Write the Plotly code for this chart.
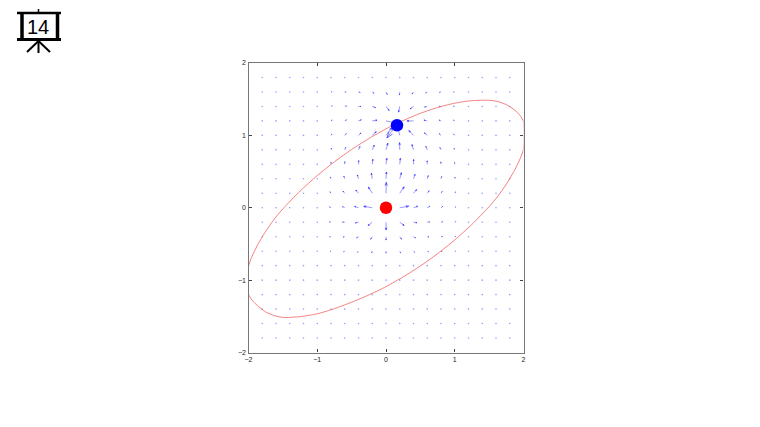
import plotly.graph_objects as go

W, H = 760, 427
PX0, PX1, PY0, PY1 = 248.5, 523.5, 63.0, 352.5

tick_vals = [-2, -1, 0, 1, 2]
slide_number = "14"

sun_xy = (0.0, 0.0)
planet_xy = (0.16, 1.14)

orbit_x = [-2.0, -1.95, -1.875, -1.75, -1.625, -1.5, -1.25, -1.0, -0.75, -0.5, -0.25, 0.0,
           0.25, 0.5, 0.75, 1.0, 1.25, 1.5, 1.625, 1.75, 1.875, 1.95, 2.0,
           2.0, 1.95, 1.875, 1.75, 1.625, 1.5, 1.25, 1.0, 0.75, 0.5, 0.25, 0.0,
           -0.25, -0.5, -0.75, -1.0, -1.25, -1.5, -1.625, -1.75, -1.875, -1.95, -2.0, -2.0]
orbit_y = [-0.81, -0.675, -0.5275, -0.325, -0.1575, -0.015, 0.23, 0.445, 0.635, 0.805, 0.955, 1.09,
           1.205, 1.305, 1.385, 1.445, 1.48, 1.485, 1.4675, 1.425, 1.3475, 1.275, 1.19,
           0.81, 0.675, 0.5275, 0.325, 0.1575, 0.015, -0.23, -0.445, -0.635, -0.805, -0.955, -1.09,
           -1.205, -1.305, -1.395, -1.465, -1.505, -1.515, -1.49, -1.44, -1.3475, -1.275, -1.19, -0.81]

grid_x = [-1.8, -1.6, -1.4, -1.2, -1.0, -0.8, -0.6, -0.4, -0.2, 0.0, 0.2, 0.4, 0.6, 0.8, 1.0, 1.2, 1.4, 1.6, 1.8]
grid_y = [-1.8, -1.6, -1.4, -1.2, -1.0, -0.8, -0.6, -0.4, -0.2, 0.0, 0.2, 0.4, 0.6, 0.8, 1.0, 1.2, 1.4, 1.6, 1.8]

field_x = [-0.8, -0.6, -0.4, -0.2, 0.0, 0.2, 0.4, 0.6, 0.8, 1.0]
field_y = [1.6, 1.4, 1.2, 1.0, 0.8, 0.6, 0.4, 0.2, 0.0, -0.2, -0.4, -0.6]
field_u = [
    [0.61, 0.78, 0.94, 1.00, 0.67, -0.17, -0.80, -0.91, -0.79, -0.64],
    [0.68, 0.94, 1.32, 1.79, 1.76, -0.67, -1.81, -1.44, -1.03, -0.75],
    [0.67, 0.99, 1.55, 2.66, 6.00, -7.20, -3.60, -1.86, -1.14, -0.76],
    [0.54, 0.84, 1.35, 2.22, 3.33, -1.81, -2.60, -1.56, -0.97, -0.64],
    [0.30, 0.50, 0.79, 1.13, 1.03, -0.11, -0.85, -0.78, -0.57, -0.40],
    [-0.01, 0.03, 0.14, 0.32, 0.46, 0.34, 0.08, -0.06, -0.10, -0.09],
    [-0.35, -0.49, -0.61, -0.49, 0.26, 0.91, 0.85, 0.57, 0.34, 0.20],
    [-0.65, -0.99, -1.54, -2.16, 0.16, 2.45, 1.74, 1.09, 0.69, 0.44],
    [-0.82, -1.27, -2.16, -4.76, 0.00, 4.96, 2.32, 1.37, 0.88, 0.58],
    [-0.83, -1.19, -1.74, -2.32, 0.08, 2.47, 1.87, 1.28, 0.89, 0.63],
    [-0.71, -0.90, -1.05, -0.86, 0.06, 0.98, 1.15, 0.98, 0.77, 0.59],
    [-0.56, -0.63, -0.61, -0.39, 0.05, 0.48, 0.69, 0.70, 0.61, 0.51],
]
field_v = [
    [0.09, -0.04, -0.30, -0.77, -1.38, -1.58, -1.11, -0.56, -0.22, -0.04],
    [0.28, 0.20, -0.03, -0.65, -2.23, -3.15, -1.34, -0.34, 0.02, 0.16],
    [0.52, 0.58, 0.59, 0.41, -1.17, -9.40, -0.02, 0.42, 0.46, 0.42],
    [0.77, 0.99, 1.32, 2.00, 4.33, 6.96, 2.63, 1.40, 0.95, 0.70],
    [0.97, 1.31, 1.82, 2.60, 3.66, 3.98, 2.89, 1.88, 1.27, 0.90],
    [1.06, 1.47, 2.06, 2.79, 3.36, 3.30, 2.66, 1.92, 1.36, 0.98],
    [1.01, 1.44, 2.12, 3.10, 3.78, 3.33, 2.45, 1.75, 1.26, 0.93],
    [0.82, 1.15, 1.79, 3.43, 6.03, 3.55, 1.98, 1.36, 1.01, 0.78],
    [0.52, 0.61, 0.71, 0.80, 0.00, 0.87, 0.83, 0.75, 0.66, 0.56],
    [0.20, 0.07, -0.37, -1.81, -4.27, -1.76, -0.28, 0.17, 0.31, 0.34],
    [-0.03, -0.25, -0.68, -1.39, -1.86, -1.36, -0.62, -0.17, 0.05, 0.15],
    [-0.16, -0.35, -0.63, -0.95, -1.10, -0.93, -0.59, -0.30, -0.10, 0.02],
]

SCALE_X, SCALE_Y = 0.026, 0.025
HEAD = 0.3
HEAD_WIDTH = 0.1


def px(x):
    return x / W


def py(y):
    return 1 - y / H


dot_x, dot_y = [], []
for gy in grid_y:
    for gx in grid_x:
        if not (gx in field_x and gy in field_y):
            dot_x.append(gx)
            dot_y.append(gy)

line_x, line_y = [], []
head_x, head_y = [], []
for j, fy in enumerate(field_y):
    for i, fx in enumerate(field_x):
        du = field_u[j][i] * SCALE_X
        dv = field_v[j][i] * SCALE_Y
        if du == 0 and dv == 0:
            continue
        ex, ey = fx + du, fy + dv
        line_x += [fx, ex, None]
        line_y += [fy, ey, None]
        bx, by = ex - du * HEAD, ey - dv * HEAD
        nx, ny = -dv * HEAD_WIDTH * SCALE_X / SCALE_Y, du * HEAD_WIDTH * SCALE_Y / SCALE_X
        head_x += [bx + nx, ex, bx - nx, None]
        head_y += [by + ny, ey, by - ny, None]

fig = go.Figure()
fig.add_trace(go.Scatter(x=dot_x, y=dot_y, mode="markers", hoverinfo="skip",
                         marker=dict(size=1.6, color="rgba(90,90,255,0.6)", line=dict(width=0))))
fig.add_trace(go.Scatter(x=line_x, y=line_y, mode="lines", hoverinfo="skip",
                         line=dict(color="rgba(70,70,255,0.55)", width=1)))
fig.add_trace(go.Scatter(x=head_x, y=head_y, mode="lines", hoverinfo="skip",
                         line=dict(color="rgba(40,40,255,0.7)", width=1)))
fig.add_trace(go.Scatter(x=orbit_x, y=orbit_y, mode="lines", hoverinfo="skip",
                         line=dict(color="rgba(240,90,90,0.85)", width=0.9, shape="spline", smoothing=0.6)))
fig.add_trace(go.Scatter(x=[sun_xy[0]], y=[sun_xy[1]], mode="markers", hoverinfo="skip",
                         marker=dict(size=12.5, color="#ff0000", line=dict(width=0))))
fig.add_trace(go.Scatter(x=[planet_xy[0]], y=[planet_xy[1]], mode="markers", hoverinfo="skip",
                         marker=dict(size=12.5, color="#0000ff", line=dict(width=0))))

axis_common = dict(range=[-2, 2], tickvals=tick_vals, ticks="inside", ticklen=3, tickwidth=1,
                   tickcolor="#444444", showgrid=False, zeroline=False, showline=True,
                   linecolor="#777777", linewidth=1.4, mirror="ticks", automargin=False,
                   tickfont=dict(family="Liberation Sans", size=7, color="#222222"))
fig.update_layout(
    width=W, height=H, showlegend=False, paper_bgcolor="white", plot_bgcolor="white",
    margin=dict(l=0, r=0, t=0, b=0, pad=0, autoexpand=False),
    xaxis=dict(domain=[px(PX0), px(PX1)], **axis_common),
    yaxis=dict(domain=[py(PY1), py(PY0)], **axis_common),
)

icon_lines = [
    (17, 13, 61, 13, 2.5), (17, 39.5, 61, 39.5, 3), (22, 13, 22, 39, 3.5), (57.5, 13, 57.5, 39, 3.5),
    (38.5, 9, 38.5, 13, 1.5), (38.5, 40, 38.5, 53, 2), (38.5, 41, 27, 52, 2), (38.5, 41, 50, 52, 2),
]
for x0, y0, x1, y1, w in icon_lines:
    fig.add_shape(type="line", xref="paper", yref="paper", x0=px(x0), y0=py(y0), x1=px(x1), y1=py(y1),
                  line=dict(color="#000000", width=w))
fig.add_annotation(xref="paper", yref="paper", x=px(38), y=py(27.5), text=slide_number, showarrow=False,
                   xanchor="center", yanchor="middle",
                   font=dict(family="Liberation Sans", size=20, color="#000000"))

fig.write_html("out.html", post_script="document.body.style.margin='0';",
               config={"displayModeBar": False})
